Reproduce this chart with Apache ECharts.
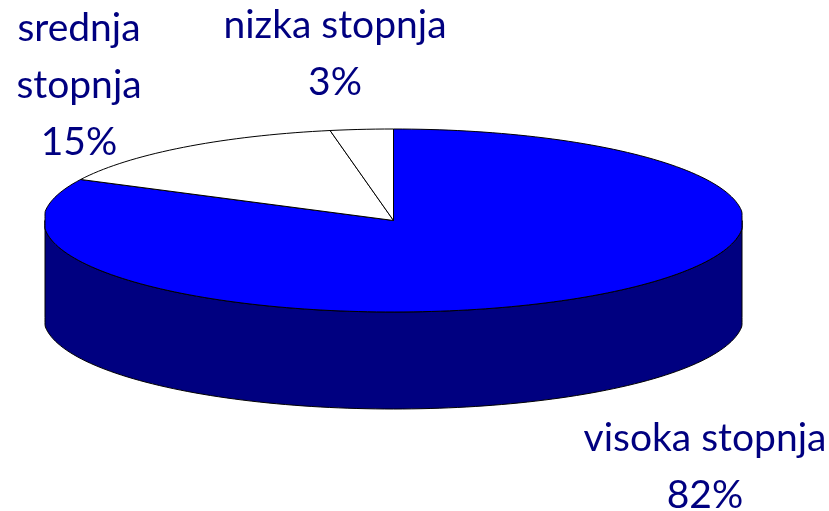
<!DOCTYPE html>
<html>
<head>
<meta charset="utf-8">
<style>html,body{margin:0;padding:0;background:#fff}#c{width:829px;height:511px}</style>
<script src="https://cdn.jsdelivr.net/npm/echarts@6/dist/echarts.min.js"></script>
</head>
<body>
<div id="c"></div>
<script>
var categories = ['visoka stopnja', 'srednja\nstopnja', 'nizka stopnja'];
var values = [82.4, 14.7, 2.9];
var sliceColors = ['#0000ff', '#ffffff', '#ffffff'];
var wallColor = '#000080';
var textColor = '#000080';

var CX = 393.5, CY = 220.5, RX = 350, RY = 91.5, DEPTH = 97, HALF_W = 348.5;
var total = values.reduce(function (a, b) { return a + b; }, 0);
var labelAnchors = [[705, 410], [79, 0], [335, -3]];

function pt(frac, dy) {
  var a = frac * 2 * Math.PI;
  var x = RX * Math.sin(a);
  x = Math.max(-HALF_W, Math.min(HALF_W, x));
  return [CX + x, CY - RY * Math.cos(a) + (dy || 0)];
}
function arc(f0, f1, dy) {
  var pts = [], n = Math.max(2, Math.ceil((f1 - f0) * 240));
  for (var i = 0; i <= n; i++) pts.push(pt(f0 + (f1 - f0) * i / n, dy));
  return pts;
}
function renderSlice(params, api) {
  var i = params.dataIndex, start = 0;
  for (var k = 0; k < i; k++) start += values[k];
  var f0 = start / total, f1 = (start + api.value(0)) / total;
  var children = [];
  if (i === 0) {
    var top = arc(0.25, 0.75, 0), bottom = arc(0.25, 0.75, DEPTH).reverse();
    children.push({
      type: 'polygon',
      shape: { points: top.concat(bottom) },
      style: { fill: wallColor, stroke: '#000', lineWidth: 1 }
    });
  }
  children.push({
    type: 'polygon',
    shape: { points: [[CX, CY]].concat(arc(f0, f1, 0)) },
    style: { fill: sliceColors[i], stroke: '#000', lineWidth: 1 }
  });
  return { type: 'group', children: children };
}

var labelFont = '39px "Comic Sans MS", "Lato", sans-serif';
var graphics = categories.map(function (c, i) {
  return {
    type: 'text', x: labelAnchors[i][0], y: labelAnchors[i][1],
    style: {
      text: c + '\n' + Math.round(values[i]) + '%',
      font: labelFont, lineHeight: 57, fill: textColor, align: 'center', verticalAlign: 'top'
    }
  };
});

var chart = echarts.init(document.getElementById('c'), null, { renderer: 'canvas' });
chart.setOption({
  animation: false,
  backgroundColor: '#ffffff',
  graphic: graphics,
  series: [{
    type: 'custom',
    coordinateSystem: 'none',
    renderItem: renderSlice,
    data: values.map(function (v, i) { return { name: categories[i], value: [v] }; })
  }]
});
</script>
</body>
</html>
